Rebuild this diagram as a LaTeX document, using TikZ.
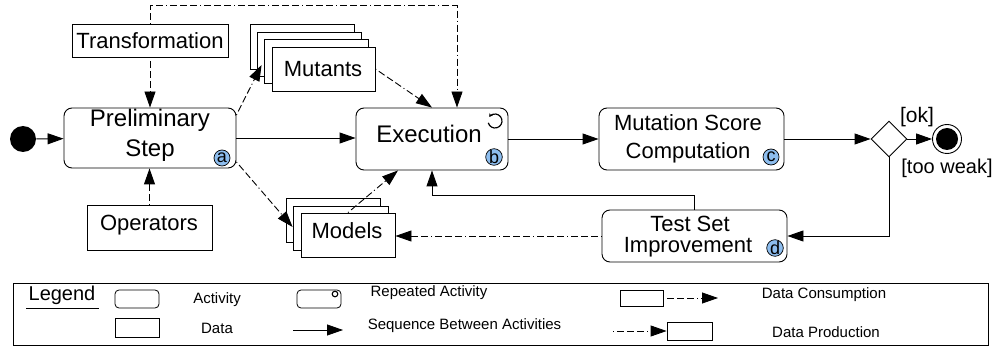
\documentclass[tikz,border=0pt]{standalone}
\usepackage{fontspec}
\setmainfont{Liberation Sans}
\usetikzlibrary{shapes.geometric,arrows.meta,calc}
\definecolor{badgeblue}{HTML}{8DBDEE}
\begin{document}
\begin{tikzpicture}[x=1pt,y=-1pt,
  line width=0.9pt,
  fbig/.style={font=\fontsize{24}{28}\selectfont},
  fmid/.style={font=\fontsize{22}{26}\selectfont},
  fsmall/.style={font=\fontsize{15}{18}\selectfont},
  act/.style={draw,rounded corners=8pt,inner sep=0pt,fill=white},
  datab/.style={draw,inner sep=0pt,fill=white},
  lbl/.style={inner sep=0pt,anchor=base},
  badge/.style={draw,circle,fill=badgeblue,inner sep=0pt,minimum size=16pt,line width=0.7pt,font=\fontsize{18}{18}\selectfont},
  tip/.style={-{Triangle[length=16pt,width=11pt]}},
  seq/.style={tip},
  cons/.style={tip,dash pattern=on 1pt off 3pt on 7pt off 3pt on 7pt off 3pt on 7pt off 3pt},
  prod/.style={tip,dash pattern=on 1pt off 3pt on 7pt off 3pt on 7pt off 3pt on 7pt off 3pt},
]
\useasboundingbox (0,0) rectangle (995,347);

% start
\node[circle,fill=black,minimum size=26pt,inner sep=0pt] (start) at (23,139) {};

% activities
\node[act,minimum width=172pt,minimum height=60pt] (prelim) at (150,138) {};
\node[lbl,fbig] (prelimA) at (150,127) {Preliminary};
\node[lbl,fbig] (prelimB) at (150,157) {Step};
\node[badge] (ba) at (222,158) {a};

\node[act,minimum width=152pt,minimum height=62pt] (exec) at (432,139) {};
\node[lbl,fbig] (execA) at (429,143) {Execution};
\node[badge] (bb) at (494,157) {b};
\coordinate (rep) at (495,121);
\draw[line width=1.2pt,-{Stealth[length=3.5pt,width=4pt]}] ($(rep)+(165:7)$) arc[start angle=165,end angle=-145,radius=7];

\node[act,minimum width=185pt,minimum height=62pt] (msc) at (691.5,139) {};
\node[lbl,fmid] (mscA) at (688,131) {Mutation Score};
\node[lbl,fmid] (mscB) at (688,159) {Computation};
\node[badge] (bc) at (771,157) {c};

\node[act,minimum width=185pt,minimum height=52pt] (tsi) at (694.5,236) {};
\node[lbl,fmid] (tsiA) at (690,232) {Test Set};
\node[lbl,fmid] (tsiB) at (688,253) {Improvement};
\node[badge] (bd) at (775,248) {d};

% decision and end
\node[draw,diamond,minimum width=36pt,minimum height=36pt,inner sep=0pt] (dia) at (889,139) {};
\node[circle,draw,fill=white,minimum size=29pt,inner sep=0pt] (endc) at (947,139) {};
\node[circle,fill=black,minimum size=22pt,inner sep=0pt] (endi) at (947,139) {};
\node[lbl,font=\fontsize{21}{24}\selectfont] (ok) at (917,123) {[ok]};
\node[lbl,font=\fontsize{20}{24}\selectfont] (weak) at (947,174) {[too weak]};

% data
\node[datab,minimum width=156pt,minimum height=33pt] (transf) at (150,40.5) {};
\node[lbl,fmid] (transfT) at (150,49) {Transformation};
\node[datab,minimum width=125pt,minimum height=45pt] (oper) at (149.5,227.5) {};
\node[lbl,fmid] (operT) at (149,231) {Operators};

\node[datab,minimum width=104pt,minimum height=45pt] (mut1) at (302,46.5) {};
\node[datab,minimum width=104pt,minimum height=44pt] (mut2) at (309,54) {};
\node[datab,minimum width=104pt,minimum height=44pt] (mut3) at (316,61) {};
\node[datab,minimum width=103pt,minimum height=44pt] (mut) at (323.5,69) {};
\node[lbl,fmid] (mutT) at (323,77) {Mutants};

\node[datab,minimum width=94pt,minimum height=44pt] (mod1) at (333,220) {};
\node[datab,minimum width=95pt,minimum height=44pt] (mod2) at (340.5,228) {};
\node[datab,minimum width=94pt,minimum height=44pt] (mod) at (348,235) {};
\node[lbl,fmid] (modT) at (347,239) {Models};

% sequence flows
\draw[seq] (start) -- (prelim);
\draw[seq] (prelim.east) -- (prelim.east -| exec.west);
\draw[seq] (exec) -- (msc);
\draw[seq] (msc) -- (dia);
\draw[seq] (dia) -- (endc);
\draw[seq] (dia.south) |- (tsi.east);
\draw[seq] (tsi.north) -- ++(0,-14) -| (exec.south);

% data flows
\draw[cons] (transf) -- (prelim);
\draw[cons] (oper.north) -- (oper.north |- prelim.south);
\draw[cons] (transf.north) -- ++(0,-18) -| ([xshift=25pt]exec.north);
\draw[prod] ([yshift=23pt]prelim.east) -- ([xshift=-10pt,yshift=4pt]mut.west);
\draw[prod] ([yshift=-24pt]prelim.east) -- ([xshift=-8pt,yshift=8pt]mod.west);
\draw[cons] (mut.east) -- (exec.north);
\draw[cons] (mod.north) -- ([xshift=-34pt]exec.south);
\draw[prod] (tsi.west) -- (tsi.west -| mod.east);

% legend
\node[draw,inner sep=0pt,minimum width=975pt,minimum height=62pt,line width=0.8pt] (legend) at (500.5,314) {};
\node[lbl,font=\fontsize{20}{24}\selectfont] (legT) at (62,300) {Legend};
\draw (26,308) -- (99,308);
\node[draw,rounded corners=4pt,minimum width=44pt,minimum height=18pt,inner sep=0pt,line width=0.8pt] (lact) at (137,299) {};
\node[fsmall] (lactT) at (217,300) {Activity};
\node[draw,rounded corners=4pt,minimum width=44pt,minimum height=18pt,inner sep=0pt,line width=0.8pt] (lrep) at (319,299) {};
\coordinate (lrepc) at (335,294);
\draw[line width=1.1pt] (lrepc) circle[radius=2.8];
\node[fsmall] (lrepT) at (429,293) {Repeated Activity};
\node[draw,minimum width=44pt,minimum height=19pt,inner sep=0pt,line width=0.8pt] (ldat) at (137,327.5) {};
\node[fsmall] (ldatT) at (217,328) {Data};
\coordinate (ls1) at (293,330);
\coordinate (ls2) at (343,330);
\draw[seq,line width=0.8pt] (ls1) -- (ls2);
\node[fsmall] (lseqT) at (464.5,326) {Sequence Between Activities};
\node[draw,minimum width=43pt,minimum height=16pt,inner sep=0pt,line width=0.8pt] (lcon) at (641.5,298) {};
\coordinate (lc2) at (718,298);
\draw[cons,line width=0.8pt] (lcon.east) -- (lc2);
\node[fsmall] (lconT) at (824,295) {Data Consumption};
\coordinate (lp1) at (613,331);
\node[draw,minimum width=45pt,minimum height=18pt,inner sep=0pt,line width=0.8pt] (lpro) at (689.5,331) {};
\draw[prod,line width=0.8pt] (lp1) -- (lpro.west);
\node[fsmall] (lproT) at (826,332) {Data Production};
\end{tikzpicture}
\end{document}
